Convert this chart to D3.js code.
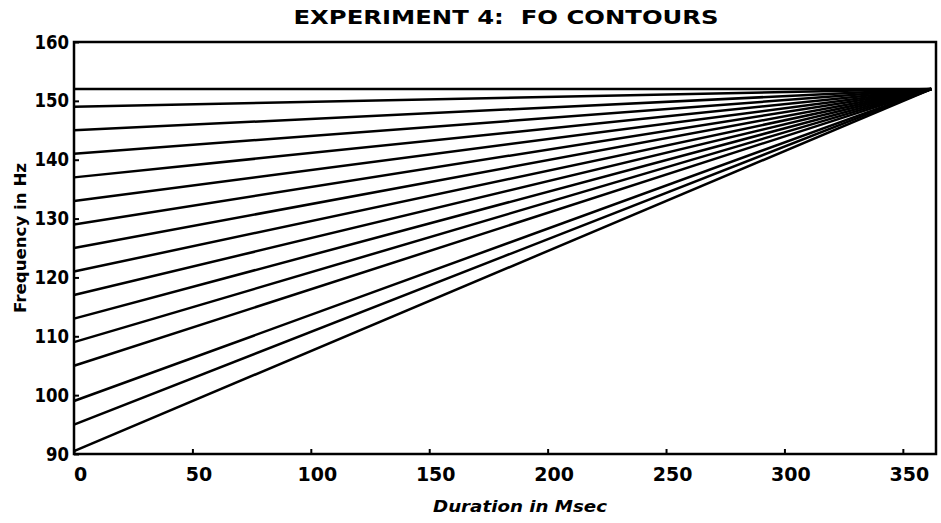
<!DOCTYPE html>
<html>
<head>
<meta charset="utf-8">
<script src="https://cdn.jsdelivr.net/npm/d3@7"></script>
<style>
body { margin: 0; background: #fff; }
svg text { font-family: "DejaVu Sans", sans-serif; font-weight: bold; fill: #000; white-space: pre; }
</style>
</head>
<body>
<div id="graph"></div>
<script>
// F0 contour start points (Hz at time 0), all end at 152 Hz
var startFreqs = [152, 149, 145, 141, 137, 133, 129, 125, 121, 117, 113, 109, 105, 99, 95, 90.5]
var endFreq = 152
var endTime = 362
var xTicks = [0, 50, 100, 150, 200, 250, 300, 350]
var yTicks = [90, 100, 110, 120, 130, 140, 150, 160]

var width = 941
var height = 523

var svg = d3.select('#graph').append('svg')
	.attr('width', width)
	.attr('height', height)

var x = d3.scaleLinear().domain([0, 364]).range([74, 936])
var y = d3.scaleLinear().domain([90, 160]).range([454, 42])

// contours
var line = d3.line()
	.x(function(d) { return x(d[0]) })
	.y(function(d) { return y(d[1]) })

svg.append('g').selectAll('path')
	.data(startFreqs)
	.enter().append('path')
	.attr('d', function(f) { return line([[0, f], [endTime, endFreq]]) })
	.attr('fill', 'none')
	.attr('stroke', '#000')
	.attr('stroke-width', 2.5)

// frame
svg.append('rect')
	.attr('x', x(0))
	.attr('y', y(160))
	.attr('width', x(364) - x(0))
	.attr('height', y(90) - y(160))
	.attr('fill', 'none')
	.attr('stroke', '#000')
	.attr('stroke-width', 2.5)

// axes
var xAxis = svg.append('g')
	.attr('transform', 'translate(0,' + y(90) + ')')
	.call(d3.axisBottom(x).tickValues(xTicks).tickSize(-5).tickPadding(14))
xAxis.select('.domain').remove()
xAxis.selectAll('line').attr('stroke-width', 2)
xAxis.selectAll('text')
	.attr('font-size', 19)
	.attr('dx', 6)
	.style('font-family', '"DejaVu Sans", sans-serif')
	.style('font-weight', 'bold')

var yAxis = svg.append('g')
	.attr('transform', 'translate(' + x(0) + ',0)')
	.call(d3.axisLeft(y).tickValues(yTicks).tickSize(-5).tickPadding(5))
yAxis.select('.domain').remove()
yAxis.selectAll('line').attr('stroke-width', 2)
yAxis.selectAll('text')
	.attr('font-size', 19)
	.attr('textLength', function(d) { return String(d).length * 11.5 })
	.attr('lengthAdjust', 'spacingAndGlyphs')
	.style('font-family', '"DejaVu Sans", sans-serif')
	.style('font-weight', 'bold')

// titles
svg.append('text')
	.attr('x', 506)
	.attr('y', 24)
	.attr('text-anchor', 'middle')
	.attr('font-size', 20)
	.attr('textLength', 425)
	.attr('lengthAdjust', 'spacingAndGlyphs')
	.text('EXPERIMENT 4:  FO CONTOURS')

svg.append('text')
	.attr('x', 520)
	.attr('y', 512)
	.attr('text-anchor', 'middle')
	.attr('font-size', 16)
	.attr('font-style', 'italic')
	.attr('textLength', 174)
	.attr('lengthAdjust', 'spacingAndGlyphs')
	.text('Duration in Msec')

svg.append('text')
	.attr('transform', 'translate(26,238) rotate(-90)')
	.attr('text-anchor', 'middle')
	.attr('font-size', 16)
	.attr('textLength', 150)
	.attr('lengthAdjust', 'spacingAndGlyphs')
	.text('Frequency in Hz')
</script>
</body>
</html>
